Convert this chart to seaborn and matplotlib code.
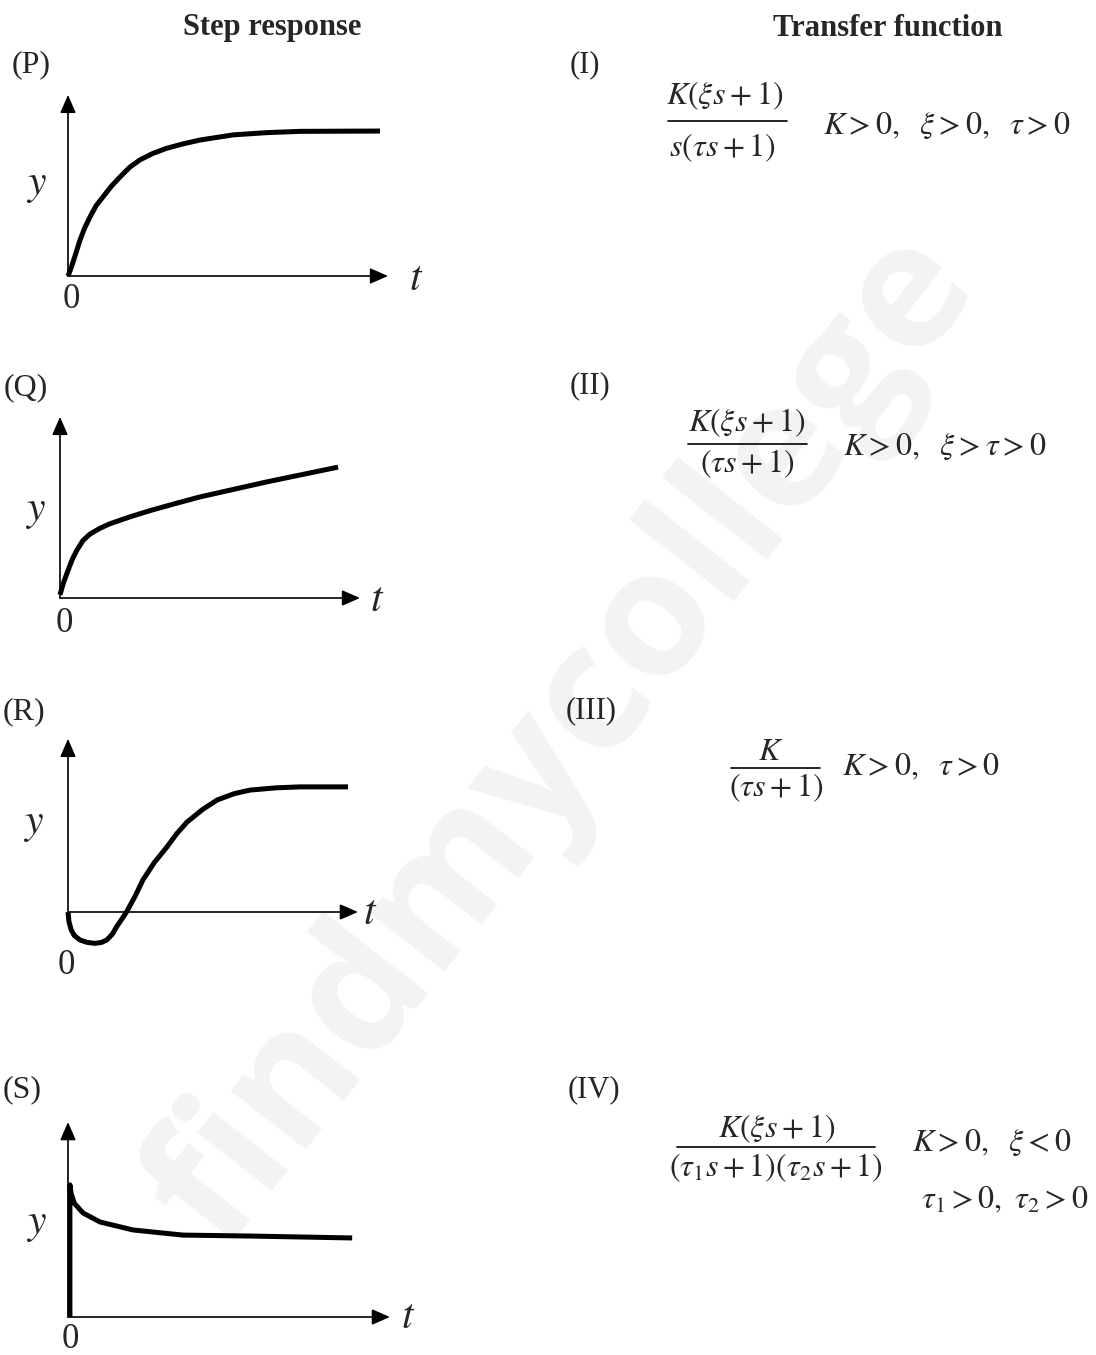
import numpy as np
import pandas as pd
import seaborn as sns
import matplotlib
matplotlib.use("Agg")
import matplotlib.pyplot as plt
from matplotlib.lines import Line2D

# step response curves (t, y in arbitrary units)
p_t = [0.0, 0.11, 0.25, 0.375, 0.53, 0.69, 0.88, 1.1, 1.35, 1.63, 1.93, 2.25, 2.65, 3.08, 3.6,
       4.13, 5.16, 6.21, 7.25, 9.75]
p_y = [0.0, 0.29, 0.72, 1.125, 1.52, 1.85, 2.2, 2.48, 2.8, 3.1, 3.4, 3.63, 3.83, 3.99, 4.13,
       4.25, 4.41, 4.48, 4.52, 4.53]

q_t = [0.0, 0.1, 0.22, 0.38, 0.53, 0.72, 0.94, 1.25, 1.56, 2.2, 2.81, 3.6, 4.38, 6.47, 8.69]
q_y = [0.1, 0.45, 0.78, 1.2, 1.5, 1.8, 2.0, 2.18, 2.32, 2.54, 2.73, 2.95, 3.16, 3.63, 4.09]

r_t = [0.0, 0.03, 0.1, 0.2, 0.375, 0.6, 0.84, 1.05, 1.21, 1.38, 1.52, 1.83, 2.1, 2.34, 2.7,
       3.09, 3.4, 3.72, 4.2, 4.66, 5.2, 5.69, 6.5, 7.25, 8.75]
r_y = [0.0, -0.3, -0.56, -0.74, -0.875, -0.95, -0.98, -0.95, -0.875, -0.7, -0.46, 0.0, 0.5, 1.0, 1.55,
       2.03, 2.45, 2.81, 3.2, 3.5, 3.7, 3.81, 3.88, 3.91, 3.91]

s_t = [0.06, 0.06, 0.1, 0.2, 0.47, 1.0, 2.03, 3.59, 5.69, 8.88]
s_y = [0.0, 4.13, 3.85, 3.55, 3.25, 2.97, 2.72, 2.56, 2.53, 2.47]

step_labels = ["(P)", "(Q)", "(R)", "(S)"]
tf_labels = ["(I)", "(II)", "(III)", "(IV)"]
tf_nums = [r"$K(\xi s+1)$", r"$K(\xi s+1)$", r"$K$", r"$K(\xi s+1)$"]
tf_dens = [r"$s(\tau s+1)$", r"$(\tau s+1)$", r"$(\tau s+1)$", r"$(\tau_1 s+1)(\tau_2 s+1)$"]
tf_conds = [r"$K>0,\ \ \xi>0,\ \ \tau>0$",
            r"$K>0,\ \ \xi>\tau>0$",
            r"$K>0,\ \ \tau>0$",
            r"$K>0,\ \ \xi<0$"]
tf_extra = r"$\tau_1>0,\ \tau_2>0$"

W, H = 1096, 1355
SCALE = 32.0  # pixels per data unit

sns.set_style("white")
plt.rcParams["mathtext.fontset"] = "stix"
plt.rcParams["font.family"] = ["Liberation Serif", "DejaVu Serif"]

fig = plt.figure(figsize=(W / 100, H / 100), dpi=100)
fig.patch.set_facecolor("white")


def fx(x):
    return x / W


def fy(y):
    return 1 - y / H


# faint watermark
fig.text(fx(565), fy(740), "findmycollege", rotation=52, ha="center", va="center",
         fontsize=126, color="#f3f3f3", family="Open Sans", weight="bold", zorder=-5)

# headers
fig.text(fx(272), fy(28), "Step response", ha="center", va="center", fontsize=22, weight="bold")
fig.text(fx(888), fy(28), "Transfer function", ha="center", va="center", fontsize=22, weight="bold")

# layout of the step-response panels: origin pixel, axis lengths, text spots
panels = [
    dict(t=p_t, y=p_y, ox=68, oy=276, xe=10.0, ye=5.66, lab=(31, 65), ylab=(36, 186), tlab=(416, 280), zlab=(71, 300)),
    dict(t=q_t, y=q_y, ox=60, oy=598, xe=9.375, ye=5.66, lab=(26, 388), ylab=(35, 512), tlab=(377, 601), zlab=(64, 624)),
    dict(t=r_t, y=r_y, ox=68, oy=912, xe=9.06, ye=5.41, lab=(24, 712), ylab=(33, 825), tlab=(370, 914), zlab=(66, 966)),
    dict(t=s_t, y=s_y, ox=68, oy=1317, xe=10.06, ye=6.09, lab=(22, 1090), ylab=(36, 1225), tlab=(408, 1318), zlab=(70, 1339)),
]

xlim = (-1.5, 11.5)
ylim = (-1.6, 6.6)
for i, pn in enumerate(panels):
    left = pn["ox"] + xlim[0] * SCALE
    bottom = pn["oy"] - ylim[0] * SCALE
    ax = fig.add_axes([fx(left), fy(bottom), (xlim[1] - xlim[0]) * SCALE / W,
                       (ylim[1] - ylim[0]) * SCALE / H])
    arrow = dict(arrowstyle="-|>,head_length=0.55,head_width=0.24", lw=1.2, color="black",
                 shrinkA=0, shrinkB=0, mutation_scale=20)
    ax.annotate("", xy=(pn["xe"], 0), xytext=(0, 0), arrowprops=arrow)
    ax.annotate("", xy=(0, pn["ye"]), xytext=(0, 0), arrowprops=arrow)
    df = pd.DataFrame({"t": pn["t"], "y": pn["y"]})
    sns.lineplot(data=df, x="t", y="y", ax=ax, color="black", lw=3.6, sort=False,
                 estimator=None, solid_joinstyle="round", solid_capstyle="butt")
    ax.set_xlim(*xlim)
    ax.set_ylim(*ylim)
    ax.axis("off")

    fig.text(fx(pn["lab"][0]), fy(pn["lab"][1]), step_labels[i], ha="center", va="center", fontsize=23)
    fig.text(fx(pn["ylab"][0]), fy(pn["ylab"][1]), r"$y$", ha="center", va="center", fontsize=30)
    fig.text(fx(pn["tlab"][0]), fy(pn["tlab"][1]), r"$t$", ha="center", va="center", fontsize=30)
    fig.text(fx(pn["zlab"][0]), fy(pn["zlab"][1]), "0", ha="center", va="center", fontsize=25)

# transfer functions: label spot, fraction bar (x0, x1, y), numerator / denominator centres
tf_lab_pos = [(585, 65), (590, 386), (591, 711), (594, 1090)]
tf_bar = [(668, 787, 121), (688, 807, 444), (731, 820, 768), (677, 875, 1147)]
tf_num_pos = [(725, 96), (747, 423), (771, 752), (777, 1129)]
tf_den_pos = [(722, 148), (747, 464), (776, 788), (776, 1168)]
tf_cond_pos = [(823, 126), (843, 447), (842, 767), (912, 1143)]
for i in range(4):
    fig.text(fx(tf_lab_pos[i][0]), fy(tf_lab_pos[i][1]), tf_labels[i], ha="center", va="center", fontsize=22)
    fig.text(fx(tf_num_pos[i][0]), fy(tf_num_pos[i][1]), tf_nums[i], ha="center", va="center", fontsize=23)
    fig.text(fx(tf_den_pos[i][0]), fy(tf_den_pos[i][1]), tf_dens[i], ha="center", va="center", fontsize=23)
    x0, x1, yb = tf_bar[i]
    fig.add_artist(Line2D([fx(x0), fx(x1)], [fy(yb), fy(yb)], color="black", lw=1.2))
    fig.text(fx(tf_cond_pos[i][0]), fy(tf_cond_pos[i][1]), tf_conds[i], ha="left", va="center", fontsize=23)
fig.text(fx(1088), fy(1200), tf_extra, ha="right", va="center", fontsize=23)

fig.savefig("out.png", dpi=100, facecolor="white")
